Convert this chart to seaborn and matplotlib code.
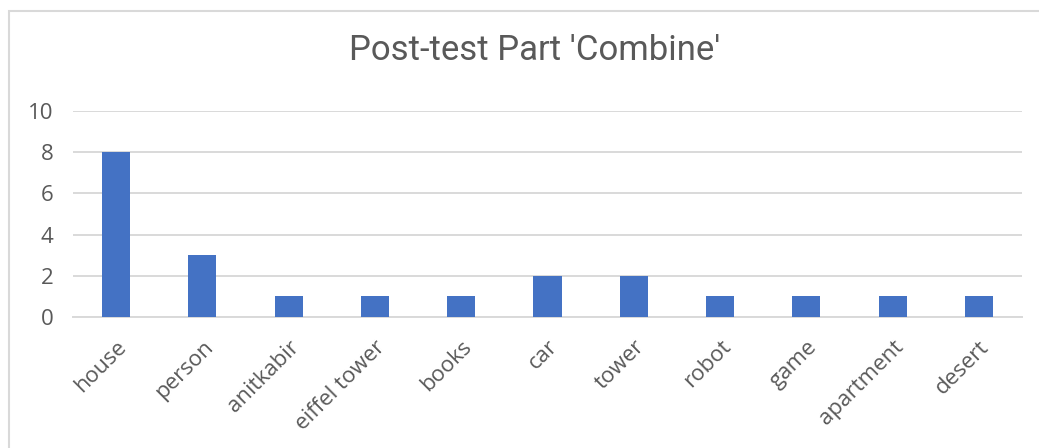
import matplotlib
matplotlib.use("Agg")
import matplotlib.pyplot as plt
from matplotlib.patches import Rectangle
import seaborn as sns
import pandas as pd

categories = ["house", "person", "anitkabir", "eiffel tower", "books", "car",
              "tower", "robot", "game", "apartment", "desert"]
counts = [8, 3, 1, 1, 1, 2, 2, 1, 1, 1, 1]
y_ticks = [0, 2, 4, 6, 8, 10]
title = "Post-test Part 'Combine'"

df = pd.DataFrame({"word": categories, "count": counts})

sns.set_theme(style="white")
plt.rcParams["font.family"] = ["Open Sans", "DejaVu Sans"]

W, H = 1039, 448
fig = plt.figure(figsize=(W / 100, H / 100), dpi=100)
ax = fig.add_axes([73 / W, 1 - 317 / H, (1022 - 73) / W, (317 - 111) / H])

sns.barplot(data=df, x="word", y="count", color="#4472C4", saturation=1,
            width=0.325, linewidth=0, ax=ax, zorder=3)

ax.set_ylim(0, 10)
ax.set_xlim(-0.5, len(categories) - 0.5)
ax.set_yticks(y_ticks)
ax.set_yticklabels([str(v) for v in y_ticks])
ax.yaxis.grid(True, color="#D9D9D9", linewidth=1.4, zorder=0)
ax.set_axisbelow(True)
for side in ["top", "right", "left"]:
    ax.spines[side].set_visible(False)
ax.spines["bottom"].set_color("#D9D9D9")
ax.spines["bottom"].set_linewidth(1.4)
ax.set_xlabel("")
ax.set_ylabel("")
ax.tick_params(axis="both", length=0, colors="#595959")
ax.tick_params(axis="y", labelsize=16, pad=14)
ax.tick_params(axis="x", labelsize=16, pad=14)
for lbl in ax.get_xticklabels():
    lbl.set_rotation(45)
    lbl.set_ha("right")
    lbl.set_rotation_mode("anchor")
    lbl.set_color("#595959")

fig.text(535 / W, 1 - 50 / H, title, ha="center", va="center",
         fontsize=25, color="#595959", family=["Roboto", "DejaVu Sans"])

# Chart-area frame
fig.patches.append(Rectangle((9 / W, -0.1), 1.2, 1 - 11 / H + 0.1,
                             transform=fig.transFigure, fill=False,
                             edgecolor="#D9D9D9", linewidth=1.5))

fig.savefig("out.png", dpi=100)
